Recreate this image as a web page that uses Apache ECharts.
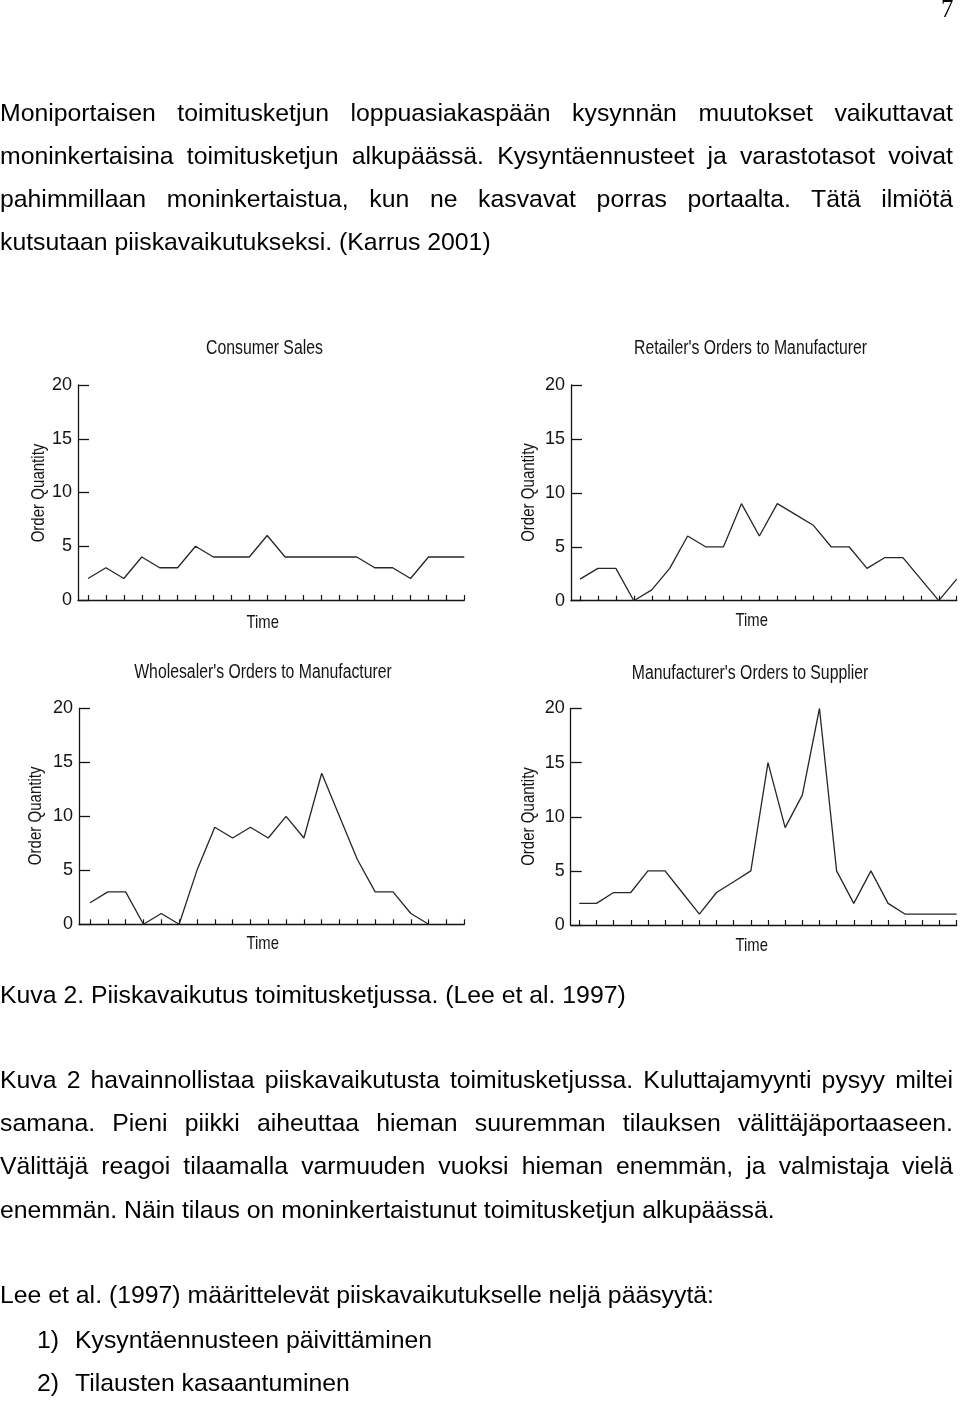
<!DOCTYPE html>
<html>
<head>
<meta charset="utf-8">
<script src="https://cdn.jsdelivr.net/npm/echarts@6/dist/echarts.min.js"></script>
<style>
  html, body { margin: 0; padding: 0; background: #fff; }
  #page { position: relative; width: 960px; height: 1401px; overflow: hidden; background: #fff; }
  #chart { position: absolute; left: 0; top: 0; width: 960px; height: 1401px; }
  .ln { position: absolute; left: 0; width: 953px; font-family: "Liberation Sans", Arial, Helvetica, sans-serif;
        font-size: 24.8px; line-height: 30px; color: #000; white-space: normal; z-index: 2; }
  .j { text-align: justify; text-align-last: justify; }
  .pn { position: absolute; left: 941px; top: -6px; font-family: "Liberation Serif", "Times New Roman", serif;
        font-size: 24.8px; line-height: 30px; color: #000; z-index: 2; }
  .li { position: absolute; font-family: "Liberation Sans", Arial, Helvetica, sans-serif;
        font-size: 24.8px; line-height: 30px; color: #000; z-index: 2; }
</style>
</head>
<body>
<div id="page">
  <div id="chart"></div>
  <div class="pn">7</div>

  <div class="ln j" style="top:98px">Moniportaisen toimitusketjun loppuasiakaspään kysynnän muutokset vaikuttavat</div>
  <div class="ln j" style="top:141.4px">moninkertaisina toimitusketjun alkupäässä. Kysyntäennusteet ja varastotasot voivat</div>
  <div class="ln j" style="top:184.4px">pahimmillaan moninkertaistua, kun ne kasvavat porras portaalta. Tätä ilmiötä</div>
  <div class="ln" style="top:227.4px">kutsutaan piiskavaikutukseksi. (Karrus 2001)</div>

  <div class="ln" style="top:979.7px">Kuva 2. Piiskavaikutus toimitusketjussa. (Lee et al. 1997)</div>

  <div class="ln j" style="top:1064.7px">Kuva 2 havainnollistaa piiskavaikutusta toimitusketjussa. Kuluttajamyynti pysyy miltei</div>
  <div class="ln j" style="top:1108px">samana. Pieni piikki aiheuttaa hieman suuremman tilauksen välittäjäportaaseen.</div>
  <div class="ln j" style="top:1151.4px">Välittäjä reagoi tilaamalla varmuuden vuoksi hieman enemmän, ja valmistaja vielä</div>
  <div class="ln" style="top:1194.7px">enemmän. Näin tilaus on moninkertaistunut toimitusketjun alkupäässä.</div>

  <div class="ln" style="top:1279.7px">Lee et al. (1997) määrittelevät piiskavaikutukselle neljä pääsyytä:</div>
  <div class="li" style="top:1324.7px; left:37px">1)</div>
  <div class="li" style="top:1324.7px; left:75px">Kysyntäennusteen päivittäminen</div>
  <div class="li" style="top:1368px; left:37px">2)</div>
  <div class="li" style="top:1368px; left:75px">Tilausten kasaantuminen</div>
</div>

<script>
// ---- Data ----
const chartTitles = [
  "Consumer Sales",
  "Retailer's Orders to Manufacturer",
  "Wholesaler's Orders to Manufacturer",
  "Manufacturer's Orders to Supplier"
];
const yAxisName = "Order Quantity";
const xAxisName = "Time";
const yTickValues = [0, 5, 10, 15, 20];

const timeSteps22 = ["1","2","3","4","5","6","7","8","9","10","11","12","13","14","15","16","17","18","19","20","21","22"];
const timeSteps23 = ["1","2","3","4","5","6","7","8","9","10","11","12","13","14","15","16","17","18","19","20","21","22","23"];

const consumerSales      = [2,3,2,4,3,3,5,4,4,4,6,4,4,4,4,4,3,3,2,4,4,4];
const retailerOrders     = [2,3,3,0,1,3,6,5,5,9,6,9,8,7,5,5,3,4,4,2,0,2];
const wholesalerOrders   = [2,3,3,0,1,0,5,9,8,9,8,10,8,14,10,6,3,3,1,0,null,null];
const manufacturerOrders = [2,2,3,3,5,5,3,1,3,4,5,15,9,12,20,5,2,5,2,1,1,1,1];

// ---- Layout (pixels) ----
const FONT = '"Liberation Sans", Arial, Helvetica, sans-serif';
const NARROW = 0.81;   // horizontal squeeze to imitate the condensed face of the original
const INK = '#141414';
const panels = [
  { title: chartTitles[0], cats: timeSteps22, data: consumerSales,
    axisX: 78, firstTickX: 88, endX: 464.3, top: 385, bottom: 600,
    titleX: 264.5, titleY: 349, timeX: 262.7, timeY: 622.5, nameX: 38.9, nameY: 493 },
  { title: chartTitles[1], cats: timeSteps22, data: retailerOrders,
    axisX: 571, firstTickX: 580, endX: 956.7, top: 385, bottom: 600.7,
    titleX: 750.5, titleY: 349, timeX: 751.7, timeY: 621, nameX: 529.2, nameY: 492.5 },
  { title: chartTitles[2], cats: timeSteps22, data: wholesalerOrders,
    axisX: 79, firstTickX: 90, endX: 464.3, top: 708.5, bottom: 924.3,
    titleX: 263, titleY: 672.5, timeX: 262.7, timeY: 944, nameX: 35.8, nameY: 815.8 },
  { title: chartTitles[3], cats: timeSteps23, data: manufacturerOrders,
    axisX: 570.7, firstTickX: 579.3, endX: 956.7, top: 708.5, bottom: 925,
    titleX: 750, titleY: 674, timeX: 751.7, timeY: 945.5, nameX: 528.8, nameY: 816.5 }
];

const grid = [], xAxis = [], yAxis = [], series = [], graphic = [];
panels.forEach((p) => {
  const gA = grid.length;
  grid.push({ left: p.axisX, top: p.top, width: p.endX - p.axisX, height: p.bottom - p.top, containLabel: false });
  const gB = grid.length;
  grid.push({ left: p.firstTickX, top: p.top, width: p.endX - p.firstTickX, height: p.bottom - p.top, containLabel: false });

  // Frame axes (grid A)
  xAxis.push({ type: 'value', gridIndex: gA, min: 0, max: 1, position: 'bottom',
    axisLine: { show: true, onZero: false, lineStyle: { color: INK, width: 1.3 } },
    axisTick: { show: false }, axisLabel: { show: false }, splitLine: { show: false } });
  yAxis.push({ type: 'value', gridIndex: gA, min: yTickValues[0], max: yTickValues[yTickValues.length - 1],
    interval: yTickValues[1] - yTickValues[0],
    axisLine: { show: true, lineStyle: { color: INK, width: 1.3 } },
    axisTick: { show: true, inside: true, length: 11, lineStyle: { color: INK, width: 1.3 } },
    axisLabel: { show: true, margin: 6, color: INK, fontFamily: FONT, fontSize: 18 },
    splitLine: { show: false } });

  // Time axis with tick marks (grid B)
  const xB = xAxis.length;
  xAxis.push({ type: 'category', gridIndex: gB, data: p.cats, boundaryGap: false, position: 'bottom',
    axisLine: { show: false },
    axisTick: { show: true, inside: true, length: 5, interval: 0, lineStyle: { color: INK, width: 1.2 } },
    axisLabel: { show: false }, splitLine: { show: false } });
  const yB = yAxis.length;
  yAxis.push({ type: 'value', gridIndex: gB, min: yTickValues[0], max: yTickValues[yTickValues.length - 1],
    show: false, splitLine: { show: false } });

  series.push({ type: 'line', xAxisIndex: xB, yAxisIndex: yB, data: p.data,
    symbol: 'none', connectNulls: false, silent: true,
    lineStyle: { color: '#262626', width: 1.3 } });

  graphic.push({ type: 'text', x: p.titleX, y: p.titleY, scaleX: NARROW, silent: true,
    style: { text: p.title, fill: INK, font: '19.5px ' + FONT, textAlign: 'center', textVerticalAlign: 'middle' } });
  graphic.push({ type: 'text', x: p.timeX, y: p.timeY, scaleX: 0.78, silent: true,
    style: { text: xAxisName, fill: INK, font: '19px ' + FONT, textAlign: 'center', textVerticalAlign: 'middle' } });
  graphic.push({ type: 'text', x: p.nameX, y: p.nameY, rotation: Math.PI / 2, scaleX: 0.86, silent: true,
    style: { text: yAxisName, fill: INK, font: '17.5px ' + FONT, textAlign: 'center', textVerticalAlign: 'middle' } });
});

const chart = echarts.init(document.getElementById('chart'), null, { renderer: 'canvas' });
chart.setOption({
  animation: false,
  backgroundColor: 'transparent',
  grid, xAxis, yAxis, series, graphic
});
</script>
</body>
</html>
